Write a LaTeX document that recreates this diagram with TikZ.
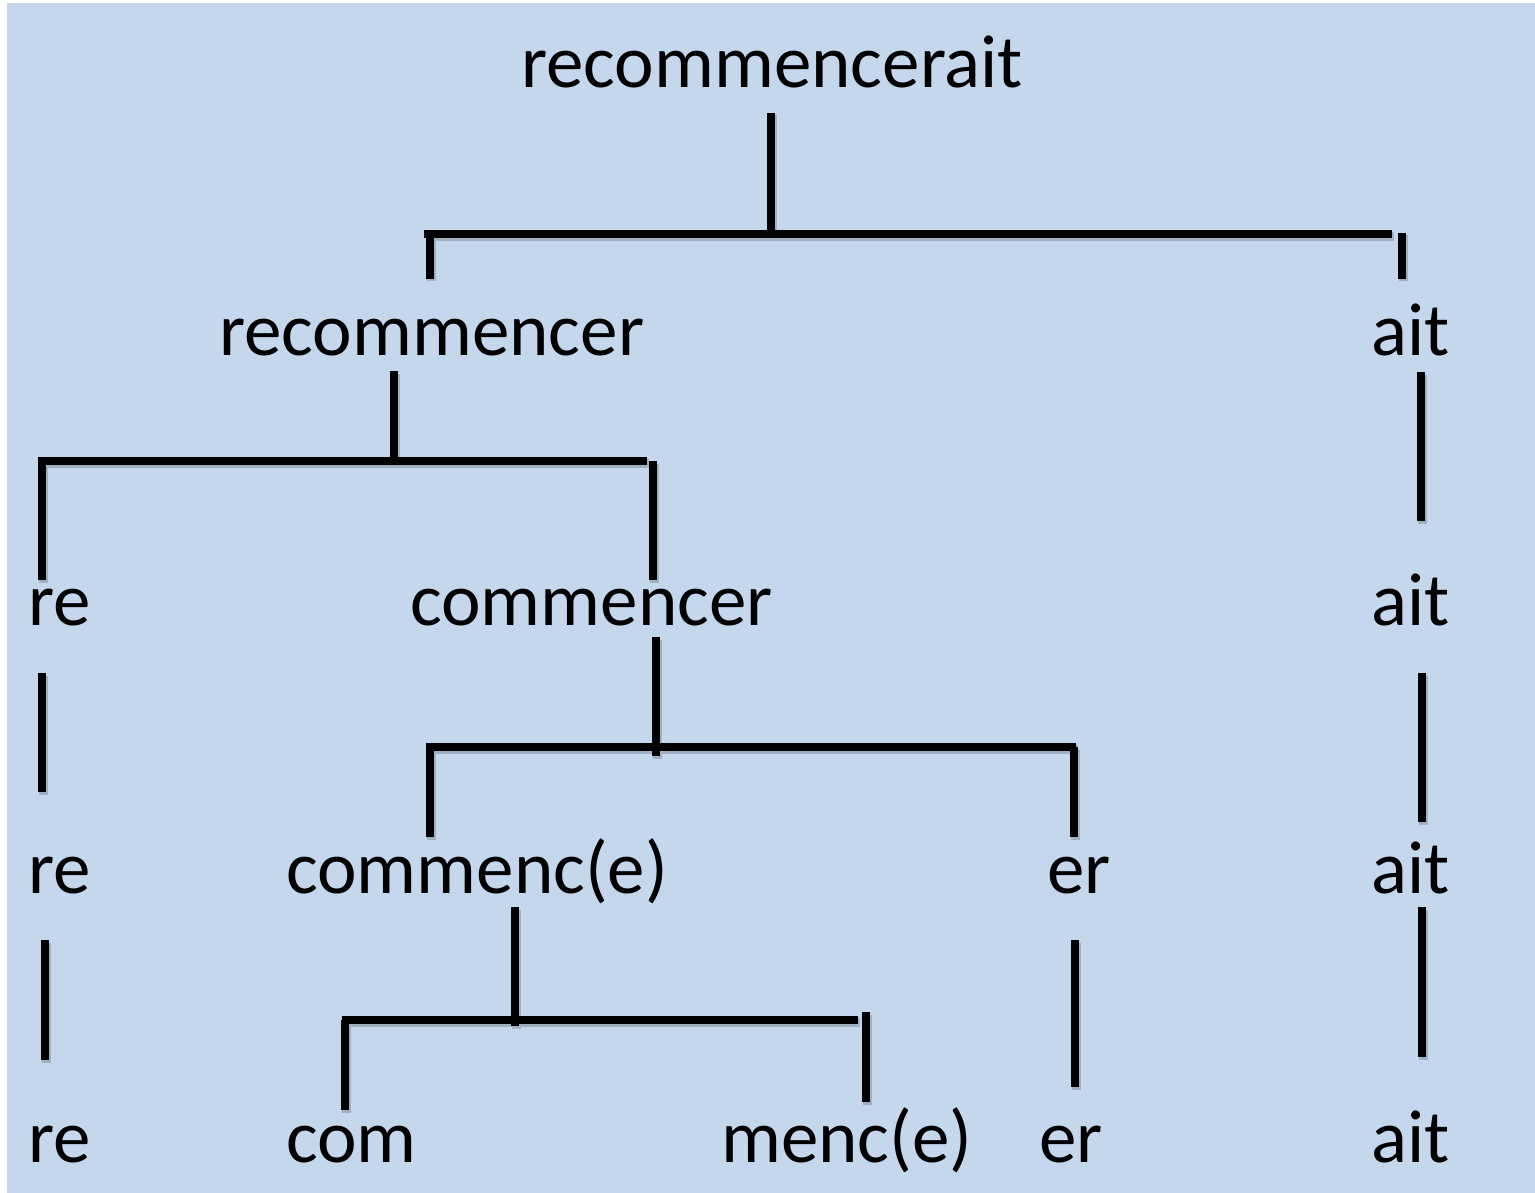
\documentclass[tikz,border=0pt]{standalone}
\usepackage{fontspec}
\setmainfont{Carlito}
\definecolor{bgblue}{RGB}{197,215,236}
\begin{document}
\begin{tikzpicture}[x=1pt,y=-1pt,
  word/.style={anchor=base west,inner sep=0pt,font=\fontsize{75}{82}\selectfont},
  seg/.style={line width=8pt,black},
  shadow/.style={line width=9.5pt,black,opacity=0.18}]
\useasboundingbox (0,0) rectangle (1535,1193);
\fill[white] (0,0) rectangle (1535,1193);
\fill[bgblue] (7,3) rectangle (1535,1193);
% words
\node[word] (root) at (521,88) {recommencerait};
\node[word] (rc) at (219,355) {recommencer};
\node[word] (ait1) at (1371,355) {ait};
\node[word] (re1) at (28,625) {re};
\node[word] (cm) at (410,625) {commencer};
\node[word] (ait2) at (1371,625) {ait};
\node[word] (re2) at (28,893) {re};
\node[word] (cme) at (286,893) {commenc(e)};
\node[word] (er1) at (1047,893) {er};
\node[word] (ait3) at (1371,893) {ait};
\node[word] (re3) at (28,1162) {re};
\node[word] (com) at (286,1162) {com};
\node[word] (menc) at (721,1162) {menc(e)};
\node[word] (er2) at (1039,1162) {er};
\node[word] (ait4) at (1371,1162) {ait};
% segments
\def\segs{%
  (771,113) -- (771,232)
  (424,234) -- (1392,234)
  (430,234) -- (430,279)
  (1402,233) -- (1402,279)
  (394,371) -- (394,461)
  (38,461) -- (647,461)
  (42,461) -- (42,580)
  (653,461) -- (653,580)
  (1421,372) -- (1421,521)
  (42,673) -- (42,792)
  (656,637) -- (656,756)
  (426,747) -- (1076,747)
  (430,747) -- (430,837)
  (1074,747) -- (1074,837)
  (1422,673) -- (1422,822)
  (45,940) -- (45,1060)
  (515,907) -- (515,1026)
  (342,1020) -- (858,1020)
  (345,1020) -- (345,1110)
  (866,1012) -- (866,1102)
  (1075,940) -- (1075,1087)
  (1422,907) -- (1422,1057)
}
\draw[shadow,shift={(1.5,2.5)}] \segs;
\draw[seg] \segs;
\end{tikzpicture}
\end{document}
